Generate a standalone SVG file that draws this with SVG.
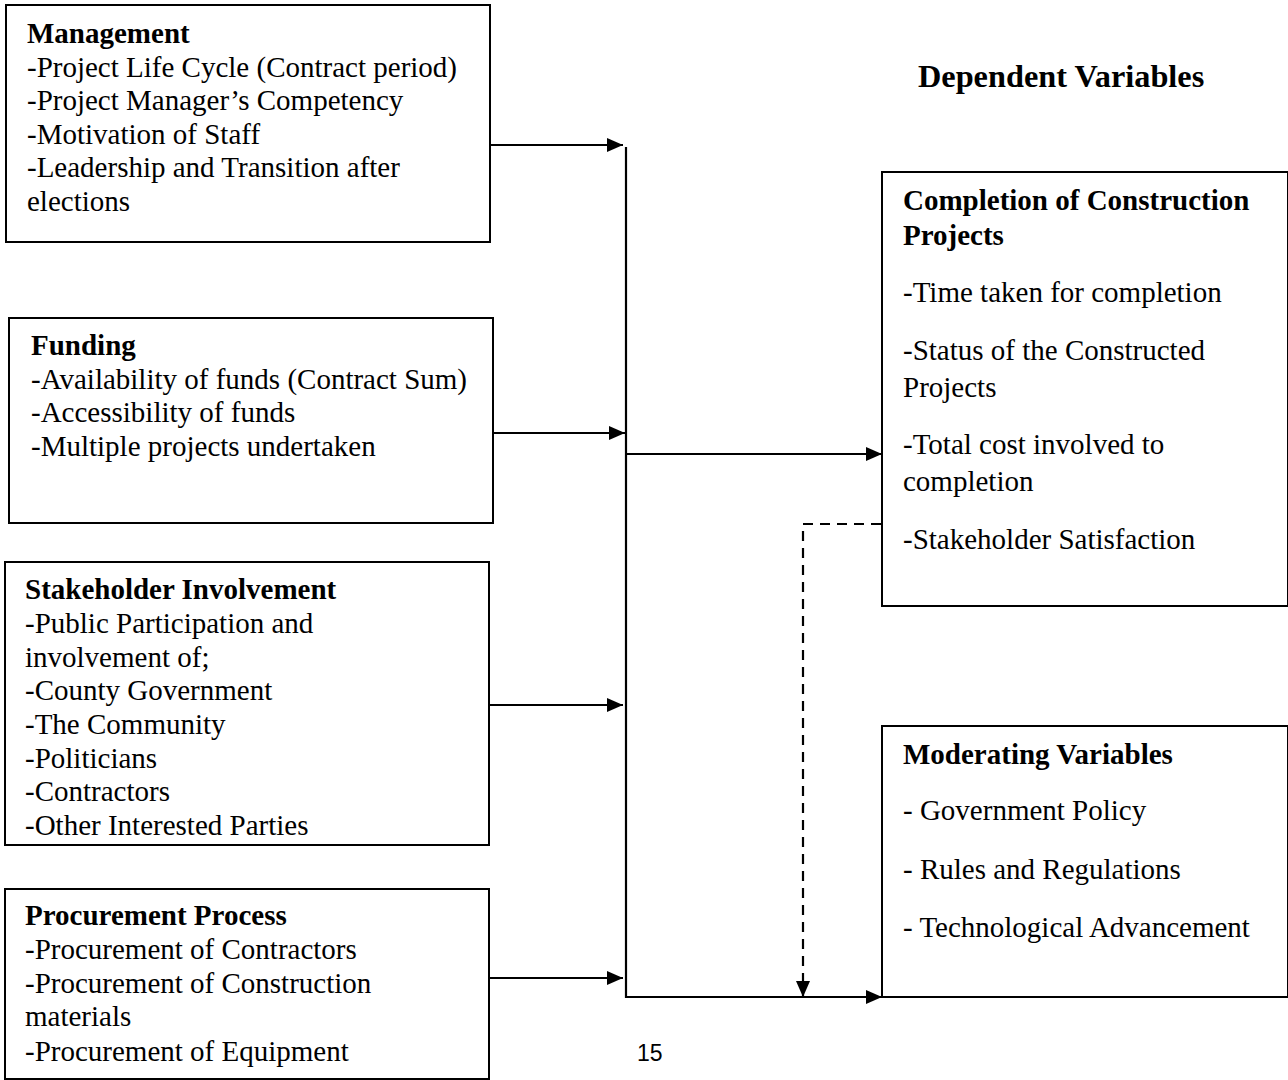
<svg xmlns="http://www.w3.org/2000/svg" width="1288" height="1080" viewBox="0 0 1288 1080">
<style>
.box{fill:#fff;stroke:#000;stroke-width:2}
text{font-family:"Liberation Serif","Times New Roman",serif;font-size:29px;fill:#000}
.b{font-weight:bold}
.ttl{font-size:32.3px}
.ln{stroke:#000;stroke-width:2.2;fill:none}
.dash{stroke:#000;stroke-width:2.2;fill:none;stroke-dasharray:10,7}
.pg{font-family:"Liberation Sans",Arial,sans-serif;font-size:23px}
</style>
<defs>
<marker id="ah" viewBox="0 0 16 14" refX="16" refY="7" markerWidth="16" markerHeight="14" markerUnits="userSpaceOnUse" orient="auto">
<path d="M0,0 L16,7 L0,14 Z" fill="#000"/>
</marker>
</defs>
<rect width="1288" height="1080" fill="#fff"/>
<g id="management">
<rect class="box" x="6" y="5" width="484" height="237"/>
<text x="27" y="43" class="b">Management</text>
<text x="27" y="76.5">-Project Life Cycle (Contract period)</text>
<text x="27" y="110">-Project Manager’s Competency</text>
<text x="27" y="143.5">-Motivation of Staff</text>
<text x="27" y="177">-Leadership and Transition after</text>
<text x="27" y="210.5">elections</text>
</g>
<g id="funding">
<rect class="box" x="9" y="318" width="484" height="205"/>
<text x="31" y="355" class="b">Funding</text>
<text x="31" y="388.5">-Availability of funds (Contract Sum)</text>
<text x="31" y="422">-Accessibility of funds</text>
<text x="31" y="455.5">-Multiple projects undertaken</text>
</g>
<g id="stakeholder">
<rect class="box" x="5" y="562" width="484" height="283"/>
<text x="25" y="599" class="b">Stakeholder Involvement</text>
<text x="25" y="633">-Public Participation and</text>
<text x="25" y="666.5">involvement of;</text>
<text x="25" y="700">-County Government</text>
<text x="25" y="734">-The Community</text>
<text x="25" y="767.5">-Politicians</text>
<text x="25" y="801">-Contractors</text>
<text x="25" y="834.5">-Other Interested Parties</text>
</g>
<g id="procurement">
<rect class="box" x="5" y="889" width="484" height="190"/>
<text x="25" y="925" class="b">Procurement Process</text>
<text x="25" y="959">-Procurement of Contractors</text>
<text x="25" y="992.5">-Procurement of Construction</text>
<text x="25" y="1026">materials</text>
<text x="25" y="1060.5">-Procurement of Equipment</text>
</g>
<g id="dependent-title">
<text x="918" y="87" class="b ttl">Dependent Variables</text>
</g>
<g id="completion">
<rect class="box" x="882" y="172" width="406" height="434"/>
<text x="903" y="210" class="b">Completion of Construction</text>
<text x="903" y="245" class="b">Projects</text>
<text x="903" y="302">-Time taken for completion</text>
<text x="903" y="360">-Status of the Constructed</text>
<text x="903" y="397">Projects</text>
<text x="903" y="454">-Total cost involved to</text>
<text x="903" y="491">completion</text>
<text x="903" y="549">-Stakeholder Satisfaction</text>
</g>
<g id="moderating">
<rect class="box" x="882" y="726" width="406" height="271"/>
<text x="903" y="764" class="b">Moderating Variables</text>
<text x="903" y="820">- Government Policy</text>
<text x="903" y="879">- Rules and Regulations</text>
<text x="903" y="937">- Technological Advancement</text>
</g>
<g id="connectors">
<line class="ln" x1="490" y1="145" x2="623" y2="145" marker-end="url(#ah)"/>
<line class="ln" x1="493" y1="433" x2="625" y2="433" marker-end="url(#ah)"/>
<line class="ln" x1="489" y1="705" x2="623" y2="705" marker-end="url(#ah)"/>
<line class="ln" x1="489" y1="978" x2="623" y2="978" marker-end="url(#ah)"/>
<line class="ln" x1="626" y1="147" x2="626" y2="998"/>
<line class="ln" x1="626" y1="454" x2="882" y2="454" marker-end="url(#ah)"/>
<line class="ln" x1="625" y1="997" x2="882" y2="997" marker-end="url(#ah)"/>
<polyline class="dash" points="881,524 803,524 803,997" marker-end="url(#ah)"/>
</g>
<text class="pg" x="637" y="1061">15</text>
</svg>
